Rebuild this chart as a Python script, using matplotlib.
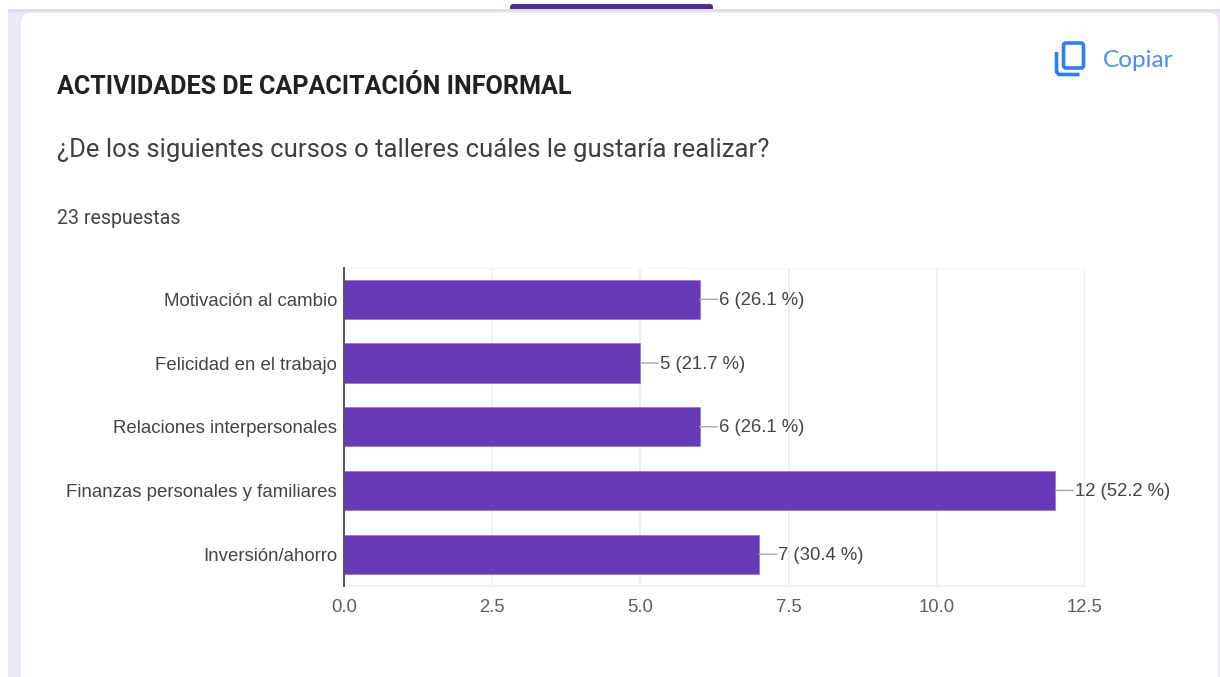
import matplotlib
matplotlib.use('Agg')
import matplotlib.pyplot as plt
from matplotlib.patches import FancyBboxPatch, Rectangle
from matplotlib.transforms import ScaledTranslation

categories = ['Motivación al cambio', 'Felicidad en el trabajo', 'Relaciones interpersonales',
              'Finanzas personales y familiares', 'Inversión/ahorro']
counts = [6, 5, 6, 12, 7]
percents = ['26.1', '21.7', '26.1', '52.2', '30.4']
xticks = [0.0, 2.5, 5.0, 7.5, 10.0, 12.5]

W, H = 1220, 677
plt.rcParams['font.family'] = ['Roboto', 'DejaVu Sans']

fig = plt.figure(figsize=(W / 100, H / 100), dpi=100, facecolor='white')

# page background drawn in pixel coordinates, y going down
bg = fig.add_axes([0, 0, 1, 1], zorder=0)
bg.set_xlim(0, W)
bg.set_ylim(H, 0)
bg.axis('off')
bg.add_patch(Rectangle((8, 10), W - 8, H - 10, fc='#ede7f6', ec='none'))
bg.add_patch(Rectangle((8, 9), W - 8, 2.5, fc='#dfdfe6', ec='none'))
bg.add_patch(FancyBboxPatch((510, 4), 203, 8, boxstyle='round,pad=0,rounding_size=3',
                            fc='#4d2f91', ec='none'))
bg.add_patch(Rectangle((505, 9), 213, 3, fc='#dfdfe6', ec='none'))
bg.add_patch(FancyBboxPatch((20, 12), 1199, 700, boxstyle='round,pad=0,rounding_size=12',
                            fc='white', ec='#e6e4ee', lw=0.8))

# copy icon
blue = '#2f80ed'
bg.add_patch(FancyBboxPatch((1063.5, 43), 20, 25, boxstyle='round,pad=0,rounding_size=2.5',
                            fc='none', ec=blue, lw=2.6))
bg.plot([1056.5, 1056.5, 1059, 1079.5], [52, 72, 74.5, 74.5], color=blue, lw=2.6,
        solid_capstyle='butt', solid_joinstyle='round')

bg.text(1103, 60.5, 'Copiar', color='#4c8bf0', fontsize=17.6, family=['Lato', 'DejaVu Sans'],
        ha='left', va='center')
bg.text(57, 87.5, 'ACTIVIDADES DE CAPACITACIÓN INFORMAL', color='#212121', fontsize=18.1,
        fontweight='bold', ha='left', va='center')
bg.text(57, 150, '¿De los siguientes cursos o talleres cuáles le gustaría realizar?', color='#3c4043',
        fontsize=18.42, ha='left', va='center')
bg.text(57, 218, '23 respuestas', color='#444444', fontsize=14.1, ha='left', va='center')

# chart axes
left, right, top, bottom = 344, 1085, 267.5, 586
ax = fig.add_axes([left / W, 1 - bottom / H, (right - left) / W, (bottom - top) / H], zorder=1)
ax.patch.set_alpha(0)

y = list(range(len(categories)))
ax.barh(y, counts, height=0.615, color='#673ab7', edgecolor='#9575cd', linewidth=0.5, zorder=3)
ax.set_xlim(0, 12.5)
ax.set_ylim(len(categories) - 0.5, -0.5)

label_font = ['Liberation Sans', 'DejaVu Sans']
ax.set_xticks(xticks)
ax.set_xticklabels([f'{t:.1f}' for t in xticks], color='#5f5f5f', fontsize=13.3, family=label_font)
ax.set_yticks(y)
ax.set_yticklabels(categories, color='#444444', fontsize=13.45, family=label_font)
ax.tick_params(axis='both', length=0)
ax.tick_params(axis='x', pad=9.5)
ax.tick_params(axis='y', pad=5)

ax.grid(axis='x', color='#ececec', lw=1.2, zorder=0)
ax.set_axisbelow(True)
ax.spines['top'].set_color('#f4f4f4')
ax.spines['right'].set_visible(False)
ax.spines['bottom'].set_color('#f0f0f0')
ax.spines['bottom'].set_linewidth(1.4)
ax.spines['left'].set_color('#555555')
ax.spines['left'].set_linewidth(1.4)
ax.spines['left'].set_zorder(5)

# value labels with small leader lines
for i, (c, p) in enumerate(zip(counts, percents)):
    ax.annotate('', xy=(c, i), xytext=(18, 0), textcoords='offset pixels',
                arrowprops=dict(arrowstyle='-', color='#a8a8a8', lw=1, shrinkA=0, shrinkB=0),
                annotation_clip=False, zorder=4)
    ax.annotate(f'{c} ({p} %)', xy=(c, i), xytext=(19.5, -1), textcoords='offset pixels', family=label_font,
                color='#444444', fontsize=13.3, ha='left', va='center', annotation_clip=False, zorder=6)

fig.savefig('out.png', dpi=100)
